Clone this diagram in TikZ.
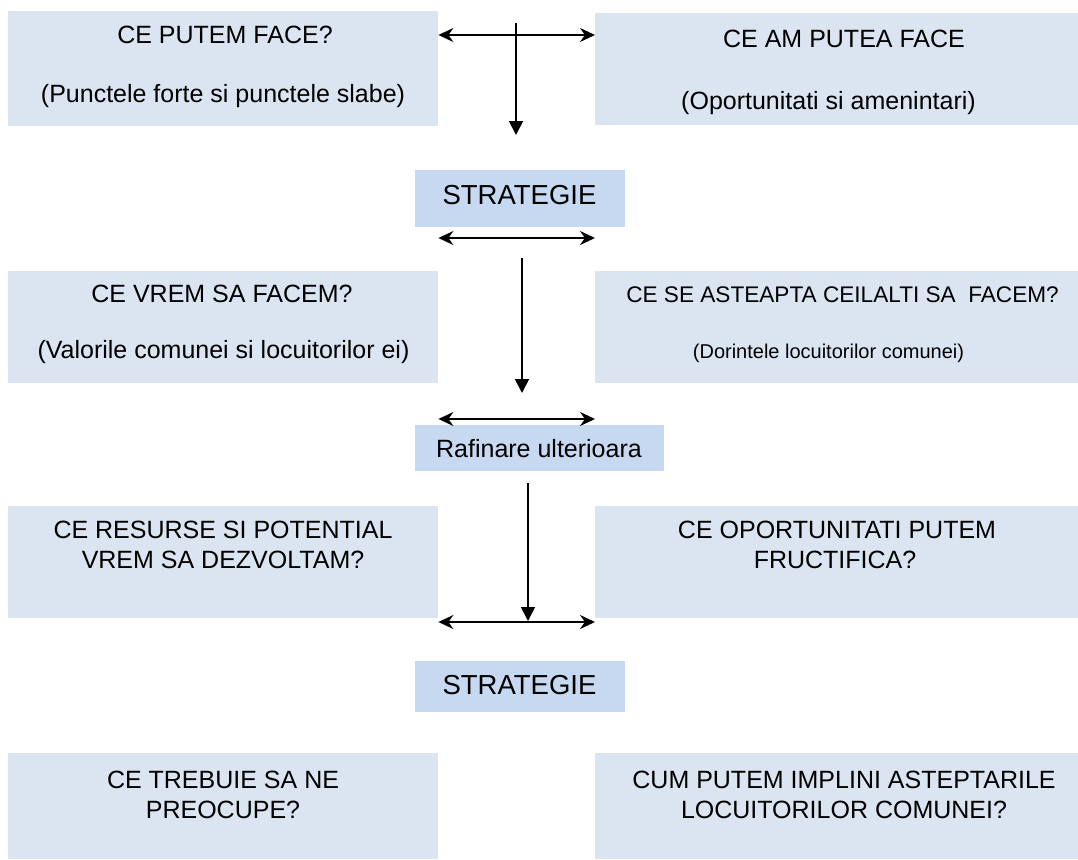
\documentclass[tikz,border=0pt]{standalone}
\usepackage{fontspec}
\setmainfont{Liberation Sans}
\usetikzlibrary{arrows.meta}
\definecolor{boxfill}{HTML}{DBE5F1}
\definecolor{stratfill}{HTML}{C6D9F1}
\tikzset{
  panel/.style={fill=boxfill, draw=none, inner sep=0pt, anchor=north west},
  stratbox/.style={fill=stratfill, draw=none, inner sep=0pt, anchor=north west},
  txt/.style={inner sep=0pt, anchor=base, font=\fontsize{25}{30}\selectfont},
  txtbig/.style={inner sep=0pt, anchor=base, font=\fontsize{27.5}{33}\selectfont},
  txtmid/.style={inner sep=0pt, anchor=base, font=\fontsize{22.6}{27}\selectfont},
  txtsmall/.style={inner sep=0pt, anchor=base, font=\fontsize{20}{24}\selectfont},
  biarrow/.style={line width=1.8pt, {Stealth[length=15pt,width=14pt,inset=5pt]}-{Stealth[length=15pt,width=14pt,inset=5pt]}},
  downarrow/.style={line width=1.8pt, -{Triangle[length=14pt,width=14pt]}}
}
\begin{document}
\begin{tikzpicture}[x=1pt,y=-1pt]
\useasboundingbox (0,0) rectangle (1078,859);
% boxes
\node[panel, minimum width=430pt, minimum height=115pt] (tl) at (8,11) {};
\node[panel, minimum width=483pt, minimum height=112pt] (tr) at (595,13) {};
\node[stratbox, minimum width=210pt, minimum height=57pt] (s1) at (415,170) {};
\node[panel, minimum width=430pt, minimum height=112pt] (ml) at (8,271) {};
\node[panel, minimum width=483pt, minimum height=112pt] (mr) at (595,271) {};
\node[stratbox, minimum width=249pt, minimum height=46pt] (raf) at (415,425) {};
\node[panel, minimum width=430pt, minimum height=112pt] (bl) at (8,506) {};
\node[panel, minimum width=483pt, minimum height=112pt] (br) at (595,506) {};
\node[stratbox, minimum width=210pt, minimum height=51pt] (s2) at (415,661) {};
\node[panel, minimum width=430pt, minimum height=106pt] (fl) at (8,753) {};
\node[panel, minimum width=483pt, minimum height=106pt] (fr) at (595,753) {};
% texts
\node[txt] (tl1) at (225,44) {CE PUTEM FACE?};
\node[txt] (tl2) at (223,102) {(Punctele forte si punctele slabe)};
\node[txt] (tr1) at (844,48) {CE AM PUTEA FACE};
\node[txt] (tr2) at (828.5,109) {(Oportunitati si amenintari)};
\node[txtbig] (s1t) at (519.5,204) {STRATEGIE};
\node[txt] (ml1) at (222,302) {CE VREM SA FACEM?};
\node[txt] (ml2) at (223.5,358) {(Valorile comunei si locuitorilor ei)};
\node[txtmid] (mr1) at (842.5,302) {CE SE ASTEAPTA CEILALTI SA\ \ FACEM?};
\node[txtsmall] (mr2) at (828.5,358) {(Dorintele locuitorilor comunei)};
\node[txt] (raft) at (539,457) {Rafinare ulterioara};
\node[txt] (bl1) at (223,538) {CE RESURSE SI POTENTIAL};
\node[txt] (bl2) at (223,568) {VREM SA DEZVOLTAM?};
\node[txt] (br1) at (837,538) {CE OPORTUNITATI PUTEM};
\node[txt] (br2) at (835,568) {FRUCTIFICA?};
\node[txtbig] (s2t) at (519.5,694) {STRATEGIE};
\node[txt] (fl1) at (223,788) {CE TREBUIE SA NE};
\node[txt] (fl2) at (223,818) {PREOCUPE?};
\node[txt] (fr1) at (844,788) {CUM PUTEM IMPLINI ASTEPTARILE};
\node[txt] (fr2) at (844,818) {LOCUITORILOR COMUNEI?};
% connector coordinates
\coordinate (h1) at (0,35);
\coordinate (h2) at (0,238);
\coordinate (h3) at (0,419);
\coordinate (h4) at (0,622);
\coordinate (v1a) at (516,23);
\coordinate (v1b) at (516,135);
\coordinate (v2a) at (522,258);
\coordinate (v2b) at (522,393);
\coordinate (v3a) at (528,483);
\coordinate (v3b) at (528,621);
% connectors
\draw[biarrow] (tl.east |- h1) -- (tr.west |- h1);
\draw[downarrow] (v1a) -- (v1b);
\draw[biarrow] (ml.east |- h2) -- (mr.west |- h2);
\draw[downarrow] (v2a) -- (v2b);
\draw[biarrow] (ml.east |- h3) -- (mr.west |- h3);
\draw[downarrow] (v3a) -- (v3b);
\draw[biarrow] (bl.east |- h4) -- (br.west |- h4);
\end{tikzpicture}
\end{document}
